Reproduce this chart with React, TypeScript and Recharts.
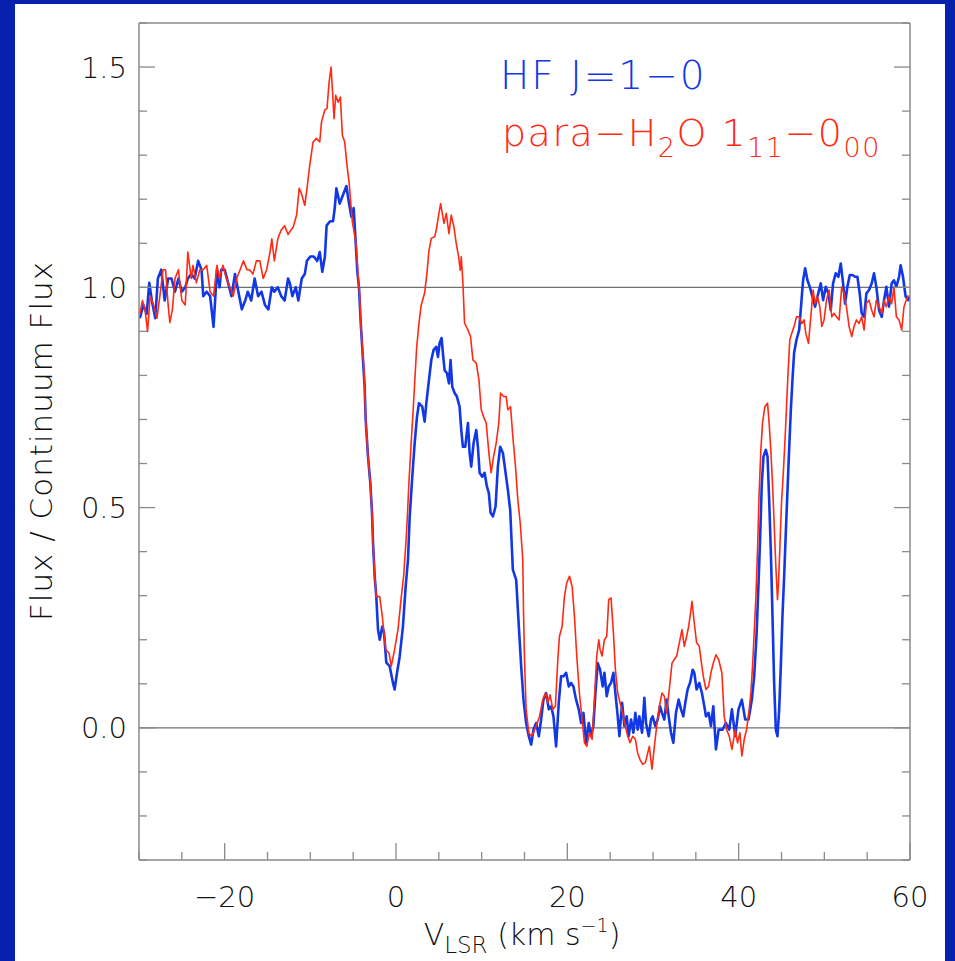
import { LineChart, Line, XAxis, YAxis, ReferenceLine } from "recharts";

// HF J=1-0 spectrum (blue)
const hfVelocity = [
  -29.9, -29.5, -29.1, -28.8, -28.5, -28.1, -27.8, -27.4, -27.0, -26.6, -26.2, -25.8, -25.4, -25.0,
  -24.6, -24.3, -23.9, -23.5, -23.1, -22.7, -22.5, -22.1, -21.7, -21.3, -20.9, -20.6, -20.4, -20.0,
  -19.6, -19.2, -18.8, -18.4, -18.0, -17.6, -17.3, -16.9, -16.5, -16.1, -15.7, -15.3, -14.9, -14.5,
  -14.2, -13.8, -13.4, -13.0, -12.6, -12.4, -12.1, -11.7, -11.4, -11.0, -10.65, -10.4, -10.0, -9.6,
  -9.2, -8.9, -8.6, -8.3, -8.1, -7.7, -7.35, -7.15, -6.96, -6.57, -6.18, -5.79, -5.48, -5.21, -4.94,
  -4.7, -4.51, -4.32, -4.12, -3.93, -3.66, -3.54, -3.27, -3.0, -2.8, -2.68, -2.49, -2.3, -2.1, -1.9,
  -1.6, -1.4, -1.13, -0.74, -0.35, -0.16, 0.12, 0.43, 0.81, 1.13, 1.4, 1.6, 1.9, 2.18, 2.45, 2.68,
  3.07, 3.34, 3.54, 3.85, 4.12, 4.39, 4.7, 4.9, 5.09, 5.32, 5.48, 5.67, 5.95, 6.18, 6.37, 6.57, 6.84,
  7.11, 7.42, 7.62, 7.81, 8.08, 8.4, 8.59, 8.78, 9.06, 9.37, 9.56, 9.76, 10.07, 10.34, 10.61, 10.84,
  11.04, 11.31, 11.62, 11.89, 12.16, 12.48, 12.79, 13.06, 13.33, 13.64, 14.03, 14.34, 14.61, 14.88,
  15.19, 15.5, 15.78, 16.05, 16.36, 16.67, 16.94, 17.21, 17.52, 17.84, 18.11, 18.38, 18.69, 19.0,
  19.27, 19.55, 19.86, 20.17, 20.44, 20.71, 21.02, 21.33, 21.61, 21.88, 22.19, 22.5, 22.77, 23.04,
  23.28, 23.55, 23.82, 24.13, 24.33, 24.6, 24.83, 25.1, 25.38, 25.61, 25.88, 26.08, 26.39, 26.66,
  26.93, 27.16, 27.44, 27.71, 27.94, 28.21, 28.41, 28.72, 28.99, 29.18, 29.5, 29.77, 29.96, 30.27,
  30.55, 30.82, 31.05, 31.32, 31.59, 31.83, 32.1, 32.37, 32.68, 32.99, 33.27, 33.54, 33.77, 34.04,
  34.32, 34.63, 34.82, 35.09, 35.4, 35.71, 35.99, 36.18, 36.49, 36.76, 37.04, 37.35, 37.66, 38.12,
  38.51, 38.9, 39.21, 39.6, 39.98, 40.37, 40.76, 41.15, 41.54, 41.81, 42.08, 42.32, 42.51, 42.7, 42.9,
  43.17, 43.37, 43.56, 43.75, 43.95, 44.14, 44.34, 44.53, 44.73, 44.92, 45.11, 45.31, 45.5, 45.7,
  45.89, 46.09, 46.28, 46.47, 46.75, 47.06, 47.37, 47.52, 47.76, 48.03, 48.3, 48.61, 48.92, 49.2,
  49.58, 49.86, 50.17, 50.48, 50.75, 51.02, 51.33, 51.64, 51.92, 52.19, 52.42, 52.69, 52.97, 53.28,
  53.59, 53.86, 54.13, 54.36, 54.64, 54.91, 55.22, 55.53, 55.8, 56.07, 56.39, 56.7, 56.97, 57.24,
  57.55, 57.86, 58.13, 58.41, 58.72, 58.91, 59.18, 59.49, 59.8, 60.0,
];
const hfFlux = [
  0.93, 0.96, 0.94, 1.01, 0.97, 0.93, 1.02, 1.04, 0.97, 1.02, 1.02, 0.99, 1.02, 0.99,
  1.0, 1.02, 1.03, 1.02, 1.06, 1.04, 0.98, 0.99, 0.98, 0.91, 1.04, 1.0, 1.04, 1.04,
  1.01, 0.98, 1.03, 0.99, 0.95, 0.97, 0.99, 0.97, 1.02, 0.98, 0.99, 0.96, 0.95, 1.0,
  0.99, 1.0, 0.98, 0.97, 1.02, 1.01, 0.98, 1.0, 0.97, 1.02, 1.03, 1.06, 1.07, 1.07,
  1.06, 1.08, 1.035, 1.07, 1.14, 1.15, 1.15, 1.18, 1.225, 1.19, 1.21, 1.23, 1.19, 1.16, 1.18,
  1.1, 1.035, 1.0, 0.92, 0.86, 0.774, 0.7, 0.616, 0.556, 0.488, 0.42, 0.344, 0.298, 0.223, 0.2,
  0.23, 0.216, 0.148, 0.14, 0.102, 0.087, 0.125, 0.162, 0.23, 0.321, 0.382, 0.48, 0.57, 0.647, 0.706, 0.737,
  0.729, 0.695, 0.737, 0.79, 0.835, 0.858, 0.865, 0.842, 0.873, 0.885, 0.85, 0.812, 0.805, 0.782, 0.835, 0.774, 0.76,
  0.752, 0.729, 0.676, 0.638, 0.638, 0.692, 0.624, 0.593, 0.647, 0.676, 0.638, 0.579, 0.57, 0.579, 0.548, 0.533,
  0.488, 0.48, 0.502, 0.593, 0.638, 0.624, 0.579, 0.54, 0.495, 0.359, 0.336, 0.23, 0.14, 0.064,
  0.011, -0.019, -0.038, -0.004, 0.011, -0.019, 0.019, 0.064, 0.079, 0.042, 0.049, 0.026, -0.042, 0.057,
  0.117, 0.117, 0.125, 0.094, 0.102, 0.094, 0.064, 0.042, 0.011, 0.034, -0.034, 0.011, -0.019, 0.004,
  0.079, 0.147, 0.132, 0.094, 0.125, 0.072, 0.094, 0.102, 0.125, 0.079, 0.026, -0.019, 0.057, 0.004,
  0.026, -0.019, 0.019, -0.011, 0.034, -0.004, 0.026, -0.011, 0.068, 0.011, -0.019, 0.019, 0.026, 0.004,
  0.019, 0.049, 0.034, 0.019, 0.064, 0.026, -0.011, -0.034, 0.034, 0.064, 0.042, 0.026, 0.057, 0.087,
  0.102, 0.132, 0.125, 0.087, 0.102, 0.079, 0.049, 0.026, 0.034, 0.004, 0.049, -0.049, -0.004, -0.004,
  0.011, -0.004, 0.042, -0.019, 0.042, 0.064, 0.019, 0.019, 0.064, 0.117, 0.208, 0.329, 0.434, 0.555, 0.616,
  0.631, 0.616, 0.518, 0.404, 0.253, 0.102, -0.004, -0.019, 0.042, 0.14, 0.253, 0.344, 0.442, 0.54,
  0.631, 0.722, 0.79, 0.851, 0.881, 0.903, 0.979, 1.016, 1.043, 1.016, 1.001, 0.979, 0.956, 0.979,
  1.009, 0.971, 1.001, 0.986, 0.948, 1.009, 1.032, 1.024, 1.054, 1.009, 0.963, 1.001, 1.028, 1.028,
  1.024, 1.024, 0.986, 0.941, 0.933, 0.986, 0.994, 1.009, 1.032, 1.001, 0.948, 0.933, 0.971, 1.001,
  0.956, 1.009, 1.016, 1.001, 1.024, 1.05, 1.024, 0.979, 0.971, 0.979,
];

// para-H2O 1_11-0_00 spectrum (red)
const h2oVelocity = [
  -29.9, -29.6, -29.3, -29.0, -28.7, -28.3, -27.9, -27.5, -27.2, -26.9, -26.6, -26.4, -26.1, -25.8,
  -25.4, -25.0, -24.6, -24.3, -23.9, -23.7, -23.3, -22.9, -22.5, -22.1, -21.7, -21.3, -20.9, -20.6,
  -20.2, -19.8, -19.4, -19.0, -18.6, -18.2, -17.8, -17.4, -17.1, -16.7, -16.3, -15.9, -15.5, -15.1,
  -14.7, -14.5, -14.2, -13.8, -13.4, -13.0, -12.6, -12.4, -12.0, -11.6, -11.3, -11.04, -10.65, -10.38,
  -10.07, -9.68, -9.29, -8.9, -8.7, -8.32, -8.05, -7.81, -7.58, -7.43, -7.23, -7.04, -6.76, -6.49,
  -6.26, -5.99, -5.72, -5.48, -5.29, -5.09, -4.82, -4.63, -4.43, -4.24, -4.12, -3.93, -3.77, -3.66,
  -3.54, -3.27, -3.0, -2.8, -2.68, -2.49, -2.3, -1.9, -1.6, -1.2, -0.82, -0.55, -0.16, 0.23, 0.62,
  0.89, 1.2, 1.3, 1.52, 1.75, 2.0, 2.2, 2.4, 2.68, 2.95, 3.34, 3.61, 3.85, 4.12, 4.51, 4.7, 5.01, 5.21,
  5.4, 5.6, 5.87, 6.18, 6.45, 6.76, 7.03, 7.31, 7.5, 7.62, 7.81, 8.0, 8.4, 8.7, 8.98, 9.37, 9.68, 9.95,
  10.22, 10.53, 10.84, 11.1, 11.39, 11.7, 12.0, 12.2, 12.55, 12.86, 13.06, 13.37, 13.64, 13.95, 14.22,
  14.5, 14.8, 14.88, 15.0, 15.19, 15.5, 15.78, 16.05, 16.36, 16.75, 17.14, 17.45, 17.72, 17.99, 18.3,
  18.61, 18.89, 19.08, 19.39, 19.66, 19.93, 20.25, 20.56, 20.83, 21.1, 21.41, 21.72, 22.0, 22.27,
  22.58, 22.89, 23.16, 23.43, 23.67, 23.82, 24.05, 24.33, 24.6, 24.83, 25.1, 25.38, 25.61, 25.88,
  26.15, 26.46, 26.77, 27.05, 27.32, 27.63, 27.94, 28.21, 28.48, 28.8, 29.11, 29.38, 29.57, 29.88,
  30.16, 30.43, 30.74, 31.05, 31.32, 31.59, 31.9, 32.22, 32.49, 32.76, 33.07, 33.38, 33.65, 33.93,
  34.16, 34.43, 34.55, 34.82, 35.09, 35.4, 35.6, 35.87, 36.18, 36.49, 36.76, 37.04, 37.35, 37.66,
  38.04, 38.31, 38.59, 38.9, 39.21, 39.6, 39.87, 40.14, 40.37, 40.65, 40.92, 41.23, 41.42, 41.62,
  41.81, 42.0, 42.2, 42.39, 42.59, 42.78, 43.05, 43.37, 43.56, 43.75, 43.95, 44.14, 44.34, 44.53,
  44.65, 44.8, 45.0, 45.19, 45.43, 45.62, 45.78, 45.97, 46.2, 46.47, 46.75, 47.06, 47.37, 47.64,
  47.83, 48.15, 48.42, 48.69, 48.92, 49.2, 49.47, 49.7, 49.97, 50.25, 50.56, 50.87, 51.14, 51.41,
  51.72, 52.03, 52.3, 52.58, 52.89, 53.2, 53.47, 53.74, 54.05, 54.36, 54.64, 54.91, 55.22, 55.53,
  55.8, 56.07, 56.39, 56.7, 56.97, 57.24, 57.55, 57.86, 58.13, 58.41, 58.72, 59.03, 59.3, 59.57, 59.8,
];
const h2oFlux = [
  0.94, 0.97, 0.95, 0.9, 0.98, 0.96, 0.93, 0.99, 1.04, 1.04, 0.96, 0.92, 0.95, 1.02,
  1.04, 0.97, 0.96, 1.08, 1.02, 1.05, 1.01, 1.04, 1.04, 1.05, 0.99, 0.98, 1.05, 1.02,
  1.05, 1.02, 1.0, 0.98, 1.02, 1.04, 1.06, 1.04, 1.04, 1.03, 1.06, 1.06, 1.02, 1.04,
  1.08, 1.11, 1.06, 1.11, 1.13, 1.14, 1.12, 1.126, 1.137, 1.164, 1.225, 1.213, 1.186, 1.225,
  1.277, 1.33, 1.338, 1.33, 1.375, 1.402, 1.406, 1.466, 1.5, 1.451, 1.383, 1.436, 1.42, 1.432,
  1.345, 1.33, 1.277, 1.239, 1.194, 1.148, 1.118, 1.089, 1.028, 0.982, 0.922, 0.862, 0.824, 0.774,
  0.7, 0.616, 0.556, 0.488, 0.42, 0.344, 0.298, 0.298, 0.253, 0.178, 0.17, 0.14, 0.178, 0.223, 0.298,
  0.344, 0.434, 0.47, 0.56, 0.64, 0.72, 0.79, 0.86, 0.919, 0.96, 0.987, 1.032, 1.084, 1.111, 1.115, 1.13, 1.168, 1.19,
  1.168, 1.145, 1.168, 1.122, 1.164, 1.137, 1.1, 1.069, 1.039, 1.069, 1.01, 0.919, 0.903, 0.888, 0.835, 0.828, 0.79, 0.722,
  0.706, 0.692, 0.624, 0.579, 0.616, 0.647, 0.692, 0.76, 0.752, 0.752, 0.722, 0.729, 0.661, 0.593, 0.518,
  0.465, 0.382, 0.268, 0.155, 0.042, -0.011, -0.019, -0.011, 0.004, 0.026, 0.064, 0.079, 0.057, 0.075, 0.042,
  0.049, 0.155, 0.208, 0.23, 0.298, 0.329, 0.344, 0.321, 0.253, 0.163, 0.079, 0.019, -0.034, -0.042,
  -0.011, -0.026, 0.064, 0.163, 0.2, 0.178, 0.163, 0.2, 0.208, 0.291, 0.295, 0.215, 0.132, 0.079,
  0.057, 0.034, 0.004, -0.019, -0.034, -0.019, -0.026, -0.057, -0.072, -0.083, -0.079, -0.057, -0.042, -0.094,
  -0.042, 0.004, 0.049, 0.079, 0.072, 0.034, 0.087, 0.147, 0.155, 0.163, 0.193, 0.223, 0.185, 0.208,
  0.23, 0.268, 0.287, 0.238, 0.193, 0.185, 0.155, 0.117, 0.087, 0.094, 0.125, 0.147, 0.166, 0.155,
  0.125, 0.026, -0.004, -0.019, -0.049, -0.004, -0.034, -0.011, -0.064, -0.026, -0.004, 0.042, 0.079, 0.14,
  0.215, 0.291, 0.404, 0.533, 0.631, 0.691, 0.729, 0.737, 0.691, 0.631, 0.555, 0.465, 0.366, 0.291,
  0.329, 0.404, 0.51, 0.571, 0.661, 0.744, 0.812, 0.881, 0.896, 0.911, 0.933, 0.933, 0.918, 0.926,
  0.896, 0.873, 0.933, 0.994, 0.963, 0.979, 0.956, 0.911, 0.926, 0.971, 0.994, 0.933, 0.941, 0.933,
  0.926, 1.001, 0.986, 0.956, 0.911, 0.888, 0.911, 0.926, 0.918, 0.933, 0.903, 0.963, 0.971, 0.948,
  0.933, 0.971, 0.956, 0.941, 0.971, 0.956, 0.979, 0.963, 1.001, 0.933, 0.926, 0.903, 0.956, 0.971, 0.982,
];

const xTicks = [-30, -25, -20, -15, -10, -5, 0, 5, 10, 15, 20, 25, 30, 35, 40, 45, 50, 55, 60];
const xLabelled = [-20, 0, 20, 40, 60];
const yTicks = [-0.3, -0.2, -0.1, 0, 0.1, 0.2, 0.3, 0.4, 0.5, 0.6, 0.7, 0.8, 0.9, 1.0, 1.1, 1.2, 1.3, 1.4, 1.5, 1.6];
const yLabelled = [0, 0.5, 1.0, 1.5];

const FRAME = "#8a8a8a";
const BLUE = "#1238e6";
const RED = "#ff2a14";
// thin stroke look, falls back to regular DejaVu if ExtraLight is missing
const FONT = "'DejaVu Sans ExtraLight', 'DejaVu Sans', sans-serif";
const WEIGHT = 200;

const isLabelledY = (v: number) => yLabelled.some((t) => Math.abs(t - v) < 1e-6);
const fmtX = (v: number) => (v < 0 ? `\u2212${-v}` : `${v}`);

function BottomTick({ x, y, payload }: any) {
  const v = payload.value;
  const major = xLabelled.includes(v);
  return (
    <g>
      <line x1={x} x2={x} y1={y} y2={y - (major ? 17 : 8)} stroke={FRAME} strokeWidth={1.3} />
      {major && (
        <text x={x} y={y + 47} textAnchor="middle" fontSize={29} fontFamily={FONT} fontWeight={WEIGHT} fill="#111">
          {fmtX(v)}
        </text>
      )}
    </g>
  );
}

function TopTick({ x, y, payload }: any) {
  const major = xLabelled.includes(payload.value);
  return <line x1={x} x2={x} y1={y} y2={y + (major ? 17 : 8)} stroke={FRAME} strokeWidth={1.3} />;
}

function LeftTick({ x, y, payload }: any) {
  const v = payload.value;
  const major = isLabelledY(v);
  return (
    <g>
      <line x1={x} x2={x + (major ? 16 : 8)} y1={y} y2={y} stroke={FRAME} strokeWidth={1.3} />
      {major && (
        <text x={x - 12} y={y + 10.5} textAnchor="end" fontSize={29} fontFamily={FONT} fontWeight={WEIGHT} fill="#111">
          {v.toFixed(1)}
        </text>
      )}
    </g>
  );
}

function RightTick({ x, y, payload }: any) {
  const major = isLabelledY(payload.value);
  return <line x1={x} x2={x - (major ? 16 : 8)} y1={y} y2={y} stroke={FRAME} strokeWidth={1.3} />;
}

export default function App() {
  const hfData = hfVelocity.map((v, i) => ({ v, flux: hfFlux[i] }));
  const h2oData = h2oVelocity.map((v, i) => ({ v, flux: h2oFlux[i] }));

  return (
    <div style={{ position: "absolute", left: 0, top: 0, width: 955, height: 961, background: "#0521ad", overflow: "hidden" }}>
      <div style={{ position: "absolute", left: 15, top: 4, width: 930, height: 957, background: "#ffffff" }}>
        <LineChart width={930} height={957} margin={{ top: 0, right: 0, bottom: 0, left: 0 }}>
          <XAxis
            dataKey="v"
            type="number"
            domain={[-30, 60]}
            allowDataOverflow
            ticks={xTicks}
            interval={0}
            height={101}
            tickSize={0}
            tickMargin={0}
            tickLine={false}
            axisLine={{ stroke: FRAME, strokeWidth: 1.5 }}
            tick={(p: any) => <BottomTick {...p} />}
          />
          <XAxis
            xAxisId="top"
            orientation="top"
            type="number"
            domain={[-30, 60]}
            allowDataOverflow
            ticks={xTicks}
            interval={0}
            height={19}
            tickSize={0}
            tickMargin={0}
            tickLine={false}
            axisLine={{ stroke: FRAME, strokeWidth: 1.5 }}
            tick={(p: any) => <TopTick {...p} />}
          />
          <YAxis
            type="number"
            domain={[-0.3, 1.6]}
            allowDataOverflow
            ticks={yTicks}
            interval={0}
            width={124}
            tickSize={0}
            tickMargin={0}
            tickLine={false}
            axisLine={{ stroke: FRAME, strokeWidth: 1.5 }}
            tick={(p: any) => <LeftTick {...p} />}
          />
          <YAxis
            yAxisId="right"
            orientation="right"
            type="number"
            domain={[-0.3, 1.6]}
            allowDataOverflow
            ticks={yTicks}
            interval={0}
            width={35}
            tickSize={0}
            tickMargin={0}
            tickLine={false}
            axisLine={{ stroke: FRAME, strokeWidth: 1.5 }}
            tick={(p: any) => <RightTick {...p} />}
          />
          <ReferenceLine y={0} stroke="#707070" strokeWidth={1.2} />
          <ReferenceLine y={1} stroke="#707070" strokeWidth={1.2} />
          <Line
            data={hfData}
            dataKey="flux"
            type="linear"
            stroke={BLUE}
            strokeWidth={2.6}
            strokeLinejoin="round"
            dot={false}
            isAnimationActive={false}
          />
          <Line
            data={h2oData}
            dataKey="flux"
            type="linear"
            stroke={RED}
            strokeWidth={1.6}
            strokeLinejoin="round"
            dot={false}
            isAnimationActive={false}
          />
        </LineChart>
      </div>
      <svg width={955} height={961} style={{ position: "absolute", left: 0, top: 0, pointerEvents: "none" }}>
        <text transform="translate(52,441) rotate(-90)" textAnchor="middle" fontSize={31} fontFamily={FONT} fontWeight={WEIGHT} fill="#111" letterSpacing={1}>
          Flux / Continuum Flux
        </text>
        <text x={522} y={945} textAnchor="middle" fontSize={30} fontFamily={FONT} fontWeight={WEIGHT} fill="#111">
          V<tspan dy={8} fontSize={23}>LSR</tspan>
          <tspan dy={-8}> (km s</tspan>
          <tspan dy={-13} fontSize={19}>{"\u22121"}</tspan>
          <tspan dy={13}>)</tspan>
        </text>
        <text x={500} y={89} fontSize={39} fontFamily={FONT} fontWeight={WEIGHT} fill={BLUE} letterSpacing={2}>
          {"HF J=1\u22120"}
        </text>
        <text x={502} y={146} fontSize={38} fontFamily={FONT} fontWeight={WEIGHT} fill={RED} letterSpacing={1.5}>
          {"para\u2212H"}
          <tspan dy={11} fontSize={27}>2</tspan>
          <tspan dy={-11}>{"O 1"}</tspan>
          <tspan dy={11} fontSize={27}>11</tspan>
          <tspan dy={-11}>{"\u22120"}</tspan>
          <tspan dy={11} fontSize={27}>00</tspan>
        </text>
      </svg>
    </div>
  );
}
